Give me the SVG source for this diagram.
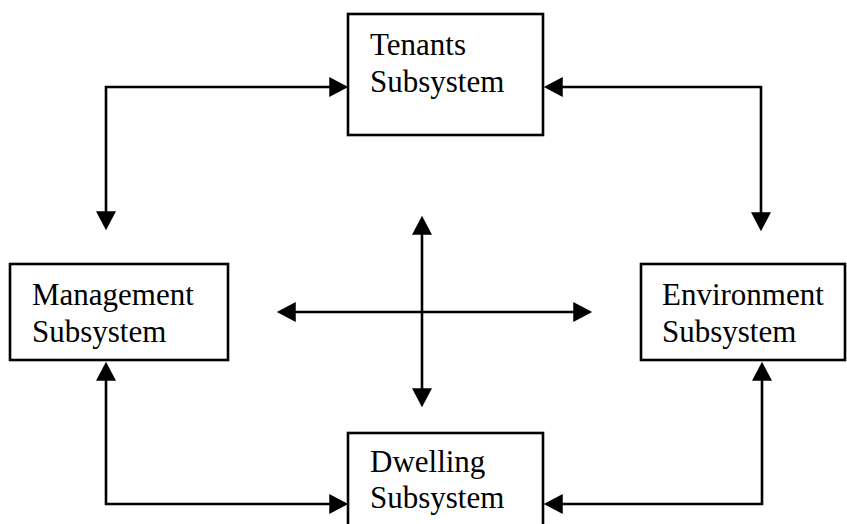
<svg xmlns="http://www.w3.org/2000/svg" width="847" height="524" viewBox="0 0 847 524">
  <style>
    .box { fill: #ffffff; stroke: #000000; stroke-width: 2.6; }
    .label { font-family: "Liberation Serif", "Times New Roman", serif; font-size: 31px; fill: #000000; }
    .link { fill: none; stroke: #000000; stroke-width: 2.6; marker-start: url(#head); marker-end: url(#head); }
  </style>
  <defs>
    <marker id="head" markerUnits="userSpaceOnUse" markerWidth="20" markerHeight="20" viewBox="0 0 18 19" refX="14" refY="9.5" orient="auto-start-reverse">
      <path d="M0,0 L18,9.5 L0,19 Z" fill="#000000"/>
    </marker>
  </defs>
  <rect width="847" height="524" fill="#ffffff"/>

  <g id="connectors">
    <path class="link" d="M106,226 L106,87 L344,87"/>
    <path class="link" d="M548,87 L761,87 L761,227"/>
    <path class="link" d="M106,366 L106,504 L344,504"/>
    <path class="link" d="M548,504 L762,504 L762,366"/>
    <path class="link" d="M281,312 L588,312"/>
    <path class="link" d="M422,220 L422,403"/>
  </g>

  <g id="tenants">
    <rect class="box" x="348" y="14" width="195" height="121"/>
    <text class="label" x="370" y="55">Tenants</text>
    <text class="label" x="370" y="92">Subsystem</text>
  </g>

  <g id="management">
    <rect class="box" x="10" y="264" width="218" height="96"/>
    <text class="label" x="32" y="305">Management</text>
    <text class="label" x="32" y="342">Subsystem</text>
  </g>

  <g id="environment">
    <rect class="box" x="641" y="264" width="204" height="96"/>
    <text class="label" x="662" y="305">Environment</text>
    <text class="label" x="662" y="342">Subsystem</text>
  </g>

  <g id="dwelling">
    <rect class="box" x="348" y="433" width="195" height="100"/>
    <text class="label" x="370" y="472">Dwelling</text>
    <text class="label" x="370" y="508">Subsystem</text>
  </g>
</svg>
